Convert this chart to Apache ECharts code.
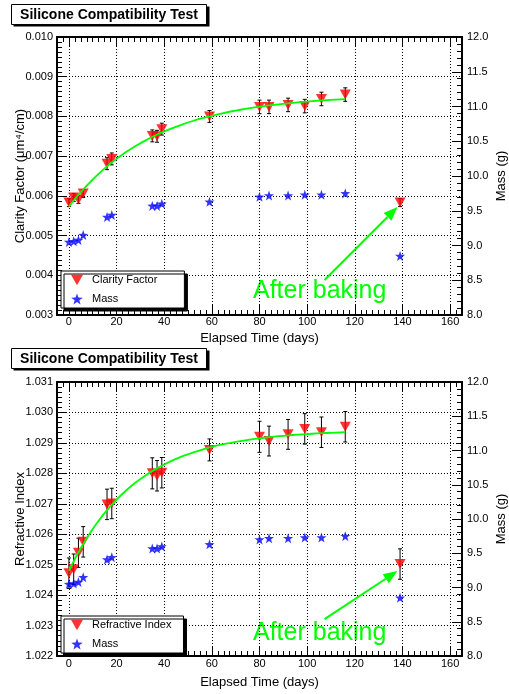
<!DOCTYPE html>
<html>
<head>
<meta charset="utf-8">
<script src="https://cdn.jsdelivr.net/npm/echarts@6/dist/echarts.min.js"></script>
<style>
  html, body { margin: 0; padding: 0; background: #fff; }
  #chart { width: 509px; height: 694px; }
</style>
</head>
<body>
<div id="chart"></div>
<script>
// Measurement days (elapsed time since start, days)
const days = [0, 2, 4, 6, 16, 18, 35, 37, 39, 59, 80, 84, 92, 99, 106, 116, 139];

// Clarity factor (µm^4/cm) and its uncertainty
const clarity = [0.00583, 0.00596, 0.00591, 0.00606, 0.00681, 0.00693, 0.00751, 0.00750, 0.00768,
                 0.00800, 0.00824, 0.00824, 0.00829, 0.00826, 0.00844, 0.00855, 0.00583];
const clarityErr = [0.00010, 0.00010, 0.00010, 0.00010, 0.00015, 0.00015, 0.00015, 0.00015, 0.00015,
                    0.00015, 0.00017, 0.00017, 0.00017, 0.00017, 0.00017, 0.00017, 0.00010];

// Refractive index and its uncertainty
const refractive = [1.02472, 1.02485, 1.02539, 1.02575, 1.02698, 1.02701, 1.02800, 1.02792, 1.02802,
                    1.02877, 1.02920, 1.02906, 1.02928, 1.02946, 1.02935, 1.02953, 1.02502];
const refractiveErr = [0.00050, 0.00050, 0.00048, 0.00050, 0.00050, 0.00050, 0.00051, 0.00050, 0.00050,
                       0.00036, 0.00051, 0.00049, 0.00049, 0.00050, 0.00050, 0.00050, 0.00050];

// Sample mass (g)
const massG = [9.05, 9.06, 9.08, 9.15, 9.41, 9.44, 9.57, 9.57, 9.60, 9.63, 9.70, 9.72, 9.72, 9.73, 9.73, 9.75, 8.85];

// Saturation fit curves, sampled every 4 days along the time axis
const fitDays = [0, 4, 8, 12, 16, 20, 24, 28, 32, 36, 40, 44, 48, 52, 56, 60,
                 64, 68, 72, 76, 80, 84, 88, 92, 96, 100, 104, 108, 112, 116];
const clarityFit = [0.005730, 0.006027, 0.006292, 0.006529, 0.006742, 0.006932, 0.007102, 0.007254,
                    0.007391, 0.007513, 0.007622, 0.007719, 0.007807, 0.007885, 0.007955, 0.008017,
                    0.008073, 0.008124, 0.008168, 0.008209, 0.008244, 0.008276, 0.008305, 0.008331,
                    0.008354, 0.008375, 0.008393, 0.008410, 0.008424, 0.008437];
const refractiveFit = [1.024800, 1.025407, 1.025933, 1.026391, 1.026789, 1.027135, 1.027435, 1.027697,
                       1.027924, 1.028121, 1.028292, 1.028441, 1.028571, 1.028683, 1.028781, 1.028866,
                       1.028940, 1.029004, 1.029060, 1.029108, 1.029150, 1.029187, 1.029219, 1.029247,
                       1.029270, 1.029291, 1.029310, 1.029325, 1.029339, 1.029351];

// Tick labels on the time axis
const xTickLabels = [0, 20, 40, 60, 80, 100, 120, 140, 160];

const FONT = '"Liberation Sans", Arial, Helvetica, sans-serif';
const GREEN = '#00ff00';
const TRI = 'path://M0,0L10,0L5,8.66Z';
const STAR = 'path://M10,0L12.35,6.76L19.51,6.91L13.8,11.24L15.88,18.09L10,14L4.12,18.09L6.2,11.24L0.49,6.91L7.65,6.76Z';
const dotted = { color: '#000', width: 1, type: [1, 2] };
const blackLine = { color: '#000', width: 2 };

// Arrow annotation endpoints in data coordinates (tail, tip)
const arrowTop = [[107.3, 0.00388], [137.9, 0.005718]];
const arrowBottom = [[107.3, 1.02321], [137.9, 1.024791]];

function pairs(xs, ys) { return xs.map((x, i) => [x, ys[i]]); }

function xAxesFor(g, nameGap, labelMargin) {
  const base = { gridIndex: g, type: 'value', min: -5, max: 165 };
  return [
    Object.assign({}, base, {
      position: 'bottom',
      name: 'Elapsed Time (days)', nameLocation: 'middle', nameGap: nameGap, nameMoveOverlap: false,
      nameTextStyle: { fontFamily: FONT, fontSize: 13, color: '#000' },
      axisLine: { show: true, onZero: false, lineStyle: blackLine },
      axisTick: { show: true, inside: true, length: 10, customValues: xTickLabels, lineStyle: { color: '#000', width: 1 } },
      axisLabel: { show: true, customValues: xTickLabels, margin: labelMargin, fontFamily: FONT, fontSize: 11, color: '#000' },
      splitLine: { show: true, lineStyle: dotted }
    }),
    Object.assign({}, base, {
      position: 'bottom', interval: 2.5,
      axisLine: { show: false, onZero: false },
      axisTick: { show: true, inside: true, length: 5, lineStyle: { color: '#000', width: 1 } },
      axisLabel: { show: false }, splitLine: { show: false }
    }),
    Object.assign({}, base, {
      position: 'top',
      axisLine: { show: true, onZero: false, lineStyle: blackLine },
      axisTick: { show: true, inside: true, length: 10, customValues: xTickLabels, lineStyle: { color: '#000', width: 1 } },
      axisLabel: { show: false }, splitLine: { show: false }
    }),
    Object.assign({}, base, {
      position: 'top', interval: 2.5,
      axisLine: { show: false, onZero: false },
      axisTick: { show: true, inside: true, length: 5, lineStyle: { color: '#000', width: 1 } },
      axisLabel: { show: false }, splitLine: { show: false }
    })
  ];
}

function leftAxis(g, min, max, name, minorSplit) {
  return {
    gridIndex: g, type: 'value', position: 'left', min: min, max: max, interval: 0.001,
    name: name, nameLocation: 'middle', nameGap: 30, nameRotate: 90, nameMoveOverlap: false,
    nameTextStyle: { fontFamily: FONT, fontSize: 13, color: '#000' },
    axisLine: { show: true, onZero: false, lineStyle: blackLine },
    axisTick: { show: true, inside: true, length: 10, lineStyle: { color: '#000', width: 1 } },
    minorTick: { show: true, splitNumber: minorSplit, length: 5, lineStyle: { color: '#000', width: 1 } },
    axisLabel: { formatter: v => v.toFixed(3), margin: 4, fontFamily: FONT, fontSize: 11, color: '#000' },
    splitLine: { show: true, lineStyle: dotted }
  };
}

function massAxis(g) {
  return {
    gridIndex: g, type: 'value', position: 'right', min: 8, max: 12, interval: 0.5,
    name: 'Mass (g)', nameLocation: 'middle', nameGap: 33, nameRotate: 90, nameMoveOverlap: false,
    nameTextStyle: { fontFamily: FONT, fontSize: 13, color: '#000' },
    axisLine: { show: true, onZero: false, lineStyle: blackLine },
    axisTick: { show: true, inside: true, length: 10, lineStyle: { color: '#000', width: 1 } },
    minorTick: { show: true, splitNumber: 5, length: 5, lineStyle: { color: '#000', width: 1 } },
    axisLabel: { formatter: v => v.toFixed(1), margin: 5, fontFamily: FONT, fontSize: 11, color: '#000' },
    splitLine: { show: false }
  };
}

function errorBars(xIdx, yIdx, vals, errs) {
  return {
    type: 'custom', xAxisIndex: xIdx, yAxisIndex: yIdx, z: 2, silent: true,
    data: days.map((d, i) => [d, vals[i] - errs[i], vals[i] + errs[i]]),
    encode: { x: 0, y: [1, 2] },
    renderItem: function (params, api) {
      const lo = api.coord([api.value(0), api.value(1)]);
      const hi = api.coord([api.value(0), api.value(2)]);
      const st = { stroke: '#000', lineWidth: 1 };
      return {
        type: 'group', children: [
          { type: 'line', shape: { x1: lo[0], y1: lo[1], x2: hi[0], y2: hi[1] }, style: st },
          { type: 'line', shape: { x1: lo[0] - 2, y1: lo[1], x2: lo[0] + 2, y2: lo[1] }, style: st },
          { type: 'line', shape: { x1: hi[0] - 2, y1: hi[1], x2: hi[0] + 2, y2: hi[1] }, style: st }
        ]
      };
    }
  };
}

function fitLine(xIdx, yIdx, vals) {
  return {
    type: 'line', name: 'fit', xAxisIndex: xIdx, yAxisIndex: yIdx, z: 5, silent: true,
    data: pairs(fitDays, vals), showSymbol: false, symbol: 'none',
    smooth: 0.2,
    lineStyle: { color: GREEN, width: 1.8 }
  };
}

// Green arrow pointing at the post-bake measurement
function arrowSeries(xIdx, yIdx, seg) {
  return {
    type: 'custom', xAxisIndex: xIdx, yAxisIndex: yIdx, z: 6, silent: true, clip: false,
    data: [[seg[0][0], seg[0][1], seg[1][0], seg[1][1]]],
    encode: { x: [0, 2], y: [1, 3] },
    renderItem: function (params, api) {
      const a = api.coord([api.value(0), api.value(1)]);
      const b = api.coord([api.value(2), api.value(3)]);
      const dx = b[0] - a[0], dy = b[1] - a[1];
      const L = Math.sqrt(dx * dx + dy * dy);
      const ux = dx / L, uy = dy / L;
      const headLen = 14, half = 5.5;
      const base = [b[0] - ux * headLen, b[1] - uy * headLen];
      const p1 = [base[0] - uy * half, base[1] + ux * half];
      const p2 = [base[0] + uy * half, base[1] - ux * half];
      return {
        type: 'group', children: [
          { type: 'line', shape: { x1: a[0], y1: a[1], x2: base[0], y2: base[1] }, style: { stroke: GREEN, lineWidth: 2 } },
          { type: 'polygon', shape: { points: [b, p1, p2] }, style: { fill: GREEN } }
        ]
      };
    }
  };
}

function titleBox(y) {
  return {
    type: 'group', x: 11, y: y, silent: true, children: [
      { type: 'rect', shape: { x: 2.5, y: 2.5, width: 196, height: 20 }, style: { fill: '#000' } },
      { type: 'rect', shape: { x: 0.5, y: 0.5, width: 195, height: 20 }, style: { fill: '#fff', stroke: '#000', lineWidth: 1 } },
      { type: 'text', x: 98, y: 11, style: { text: 'Silicone Compatibility Test', font: 'bold 14px ' + FONT, fill: '#000', align: 'center', verticalAlign: 'middle' } }
    ]
  };
}

function afterBaking(y) {
  return { type: 'text', x: 253, y: y, silent: true,
    style: { text: 'After baking', font: '25px ' + FONT, fill: GREEN, align: 'left', verticalAlign: 'middle' } };
}

function legendBox(top, names, padRight) {
  return {
    left: 61, top: top, orient: 'vertical', selectedMode: false,
    itemWidth: 12, itemHeight: 11, itemGap: 5,
    padding: [2, padRight, 2, 10],
    backgroundColor: '#fff', borderColor: '#000', borderWidth: 1,
    shadowColor: '#000', shadowBlur: 0, shadowOffsetX: 3, shadowOffsetY: 3,
    textStyle: { fontFamily: FONT, fontSize: 11, color: '#000', padding: [0, 0, 0, 4], lineHeight: 14 },
    data: [{ name: names[0], icon: TRI }, { name: names[1], icon: STAR }]
  };
}

const chart = echarts.init(document.getElementById('chart'), null, { renderer: 'canvas' });

const option = {
  animation: false,
  backgroundColor: '#fff',
  grid: [
    { left: 57, top: 37, width: 405, height: 278, containLabel: false, outerBoundsMode: 'none' },
    { left: 57, top: 382, width: 405, height: 274, containLabel: false, outerBoundsMode: 'none' }
  ],
  xAxis: [].concat(xAxesFor(0, 17, 1), xAxesFor(1, 20, 2)),
  yAxis: [
    leftAxis(0, 0.003, 0.010, 'Clarity Factor (\u03bcm\u2074/cm)', 8),
    massAxis(0),
    leftAxis(1, 1.022, 1.031, 'Refractive Index', 6),
    massAxis(1)
  ],
  legend: [
    legendBox(271, ['Clarity Factor', 'Mass'], 27),
    legendBox(616, ['Refractive Index', 'Mass'], 12)
  ],
  graphic: [titleBox(4), titleBox(348), afterBaking(291), afterBaking(633)],
  series: [
    errorBars(0, 0, clarity, clarityErr),
    {
      type: 'scatter', name: 'Clarity Factor', xAxisIndex: 0, yAxisIndex: 0, z: 3,
      data: pairs(days, clarity), symbol: TRI, symbolSize: [11, 10],
      itemStyle: { color: '#ff0000' }
    },
    {
      type: 'scatter', name: 'Mass', xAxisIndex: 0, yAxisIndex: 1, z: 3,
      data: pairs(days, massG), symbol: STAR, symbolSize: 10,
      itemStyle: { color: '#0000ff' }
    },
    fitLine(0, 0, clarityFit),
    arrowSeries(0, 0, arrowTop),

    errorBars(4, 2, refractive, refractiveErr),
    {
      type: 'scatter', name: 'Refractive Index', xAxisIndex: 4, yAxisIndex: 2, z: 3,
      data: pairs(days, refractive), symbol: TRI, symbolSize: [11, 10],
      itemStyle: { color: '#ff0000' }
    },
    {
      type: 'scatter', name: 'Mass', xAxisIndex: 4, yAxisIndex: 3, z: 3,
      data: pairs(days, massG), symbol: STAR, symbolSize: 10,
      itemStyle: { color: '#0000ff' }
    },
    fitLine(4, 2, refractiveFit),
    arrowSeries(4, 2, arrowBottom)
  ]
};

chart.setOption(option);
</script>
</body>
</html>
